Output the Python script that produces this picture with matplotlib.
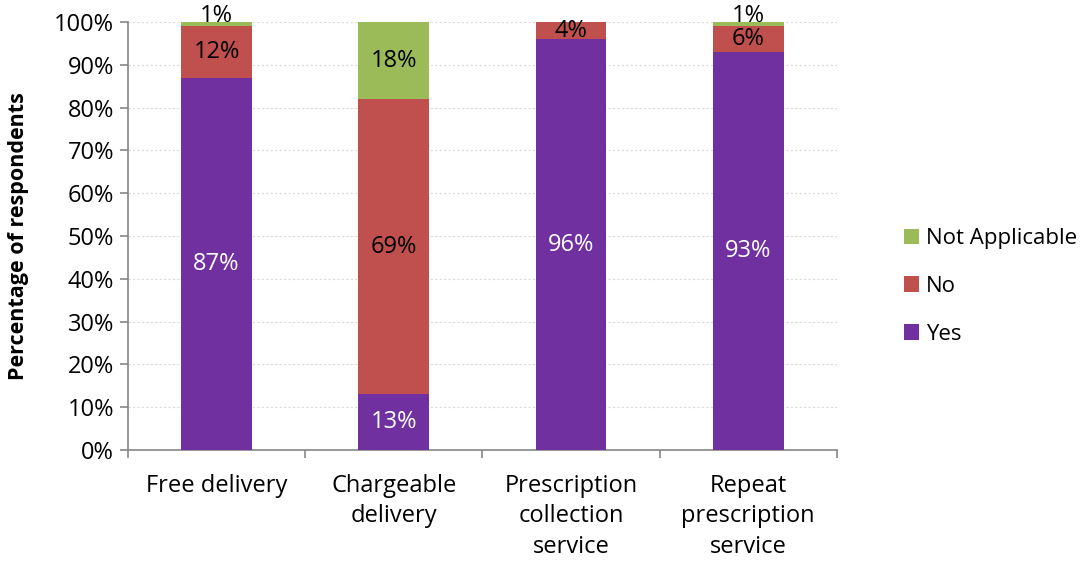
import matplotlib
matplotlib.use("Agg")
import matplotlib.pyplot as plt
import numpy as np

plt.rcParams['font.family'] = ['Open Sans', 'DejaVu Sans']

categories = ["Free delivery", "Chargeable\ndelivery", "Prescription\ncollection\nservice", "Repeat\nprescription\nservice"]
yes = [87, 13, 96, 93]
no = [12, 69, 4, 6]
not_applicable = [1, 18, 0, 1]

series = [("Yes", yes, "#7030A0", "white"),
          ("No", no, "#C0504D", "black"),
          ("Not Applicable", not_applicable, "#9BBB59", "black")]

fig = plt.figure(figsize=(10.91, 5.65), dpi=100)
ax = fig.add_axes([0.1173, 0.2035, 0.6497, 0.7575])

x = np.arange(len(categories))
bottom = np.zeros(len(categories))
handles = []
for name, vals, color, tcolor in series:
    vals = np.array(vals, dtype=float)
    bars = ax.bar(x, vals, 0.4, bottom=bottom, color=color, edgecolor="none", zorder=3, label=name)
    handles.append(bars)
    for xi, b, v in zip(x, bottom, vals):
        if v <= 0:
            continue
        yc = b + v / 2
        off = 6 if v < 2 else 0
        ax.annotate(f"{v:.0f}%", (xi, yc), xytext=(0, off), textcoords="offset points",
                    ha="center", va="center", fontsize=17, color=tcolor, zorder=4)
    bottom += vals

ax.set_xlim(-0.5, len(categories) - 0.5)
ax.set_ylim(0, 100)
ax.set_yticks(np.arange(0, 101, 10))
ax.set_yticklabels([f"{t}%" for t in range(0, 101, 10)], fontsize=17)
ax.set_xticks(x)
ax.set_xticklabels(categories, fontsize=17, linespacing=1.38)
ax.tick_params(axis="x", length=0, pad=17)
ax.set_xticks(np.arange(-0.5, len(categories)), minor=True)
ax.tick_params(axis="x", which="minor", length=6, color="#868686", width=1.2)
ax.tick_params(axis="y", length=6, color="#868686", width=1.2, pad=4)

ax.grid(axis="y", color="#D9D9D9", linestyle=(0, (2, 2)), linewidth=0.8, zorder=0)
for s in ["top", "right"]:
    ax.spines[s].set_visible(False)
for s in ["left", "bottom"]:
    ax.spines[s].set_color("#868686")
    ax.spines[s].set_linewidth(1.2)

ax.set_ylabel("Percentage of respondents", fontsize=15.5, fontweight="bold", labelpad=18)

leg = ax.legend(handles[::-1], [h.get_label() for h in handles[::-1]],
                loc="center left", bbox_to_anchor=(1.082, 0.382), frameon=False,
                fontsize=16, handlelength=0.7, handleheight=0.7, handletextpad=0.3,
                labelspacing=1.2, borderaxespad=0)

fig.savefig("out.png", dpi=100)
